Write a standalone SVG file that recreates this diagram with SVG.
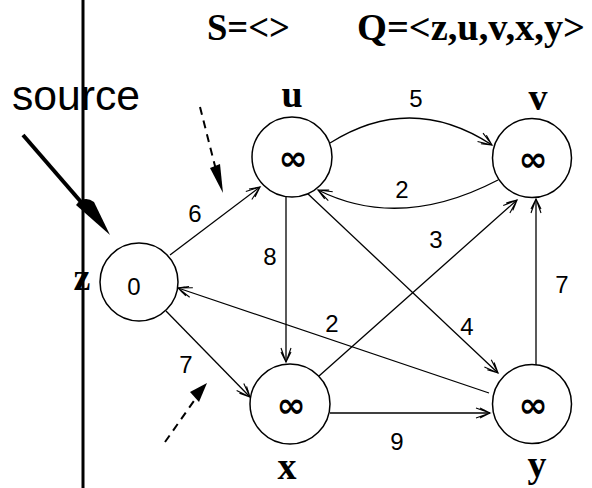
<svg xmlns="http://www.w3.org/2000/svg" width="592" height="488" viewBox="0 0 592 488">
<style>
.node{fill:#fff;stroke:#000;stroke-width:1.5}
.edge{fill:none;stroke:#000;stroke-width:1.3;marker-end:url(#arr)}
.lbl{font-family:"Liberation Serif",serif;font-weight:bold;font-size:38px;text-anchor:middle;fill:#000}
.ttl{font-family:"Liberation Serif",serif;font-weight:bold;font-size:38px;fill:#000}
.inf{font-family:"DejaVu Sans",sans-serif;font-weight:bold;font-size:35px;text-anchor:middle;fill:#000}
.w{font-family:"Liberation Sans",sans-serif;font-size:24px;text-anchor:middle;fill:#000}
.dash{fill:none;stroke:#000;stroke-width:2;stroke-dasharray:8 6}
</style>
<defs>
<marker id="arr" markerUnits="userSpaceOnUse" markerWidth="20" markerHeight="16" viewBox="-16 -8 20 16" refX="0" refY="0" orient="auto">
<path d="M-14,-5 L0,0 L-14,5 M-10,-5 L0,0 L-10,5 M-6,-3 L0,0 L-6,3" fill="none" stroke="#000" stroke-width="1.1"/>
</marker>
</defs>
<rect width="592" height="488" fill="#fff"/>
<line x1="83" y1="0" x2="83" y2="488" stroke="#000" stroke-width="3"/>
<g id="title">
<text class="ttl" x="207" y="40" textLength="83" lengthAdjust="spacingAndGlyphs">S=&lt;&gt;</text>
<text class="ttl" x="357" y="40" textLength="228" lengthAdjust="spacingAndGlyphs">Q=&lt;z,u,v,x,y&gt;</text>
</g>
<g id="source">
<text x="12" y="110" font-family="Liberation Sans, sans-serif" font-size="42" textLength="128" lengthAdjust="spacingAndGlyphs">source</text>
<line x1="23" y1="135" x2="88" y2="210" stroke="#000" stroke-width="4"/>
<path d="M76,205 Q84,195 94,202 L110,235 Z" fill="#000"/>
</g>
<g id="hints">
<path class="dash" d="M200,107 L216,170"/>
<path d="M210,168 L220,164 L223,193 Z" fill="#000"/>
<path class="dash" d="M165,442 L196,398"/>
<path d="M190,392 L199,402 L207,383 Z" fill="#000"/>
</g>
<g id="connectors">
<path class="edge" d="M330,143 Q411,92 492,145"/>
<path class="edge" d="M498,180 Q400,231 318,190"/>
<path class="edge" d="M170,255 L260,187"/>
<path class="edge" d="M286,197 L286,362"/>
<path class="edge" d="M307,193 L498,373"/>
<path class="edge" d="M319,376 L517,200"/>
<path class="edge" d="M536,365 L536,199"/>
<path class="edge" d="M489,393 L178,288"/>
<path class="edge" d="M330,413 L490,413"/>
<path class="edge" d="M166,311 L250,397"/>
<text class="w" x="416" y="107">5</text>
<text class="w" x="402" y="198">2</text>
<text class="w" x="436" y="248">3</text>
<text class="w" x="195" y="222">6</text>
<text class="w" x="270" y="265">8</text>
<text class="w" x="186" y="373">7</text>
<text class="w" x="332" y="332">2</text>
<text class="w" x="467" y="335">4</text>
<text class="w" x="562" y="293">7</text>
<text class="w" x="397" y="450">9</text>
</g>
<g id="node-z">
<circle class="node" cx="139" cy="282" r="39"/>
<text class="w" x="134" y="295">0</text>
<text class="lbl" x="82" y="290">z</text>
</g>
<g id="node-u">
<circle class="node" cx="292" cy="157" r="40"/>
<text class="inf" x="293" y="170">∞</text>
<text class="lbl" x="292" y="107">u</text>
</g>
<g id="node-v">
<circle class="node" cx="532" cy="158" r="39.5"/>
<text class="inf" x="533" y="171">∞</text>
<text class="lbl" x="538" y="110">v</text>
</g>
<g id="node-x">
<circle class="node" cx="290" cy="404" r="40"/>
<text class="inf" x="291" y="417">∞</text>
<text class="lbl" x="287" y="479">x</text>
</g>
<g id="node-y">
<circle class="node" cx="532" cy="404" r="39.5"/>
<text class="inf" x="533" y="417">∞</text>
<text class="lbl" x="537" y="477">y</text>
</g>
</svg>
